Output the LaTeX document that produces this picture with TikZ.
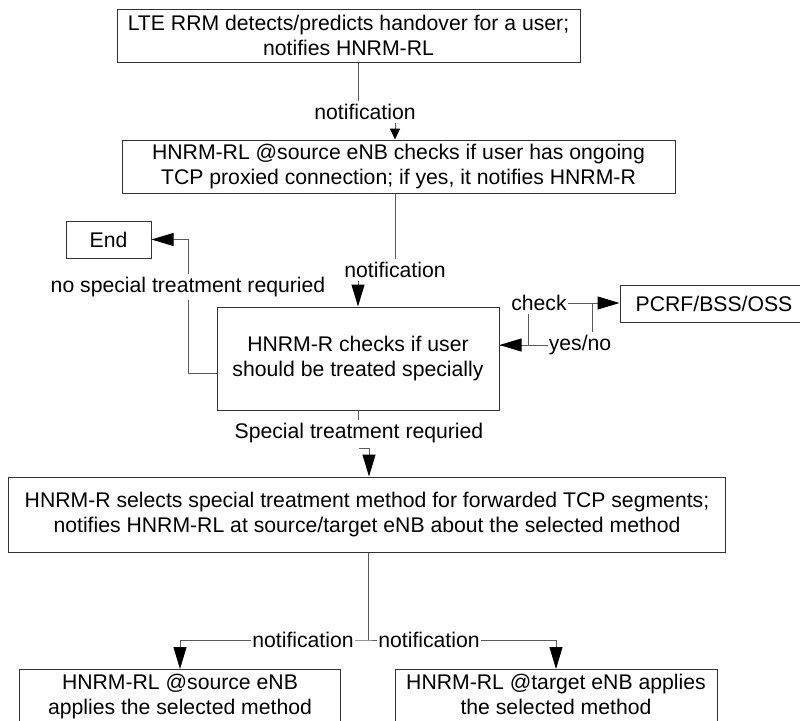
\documentclass[tikz,border=0pt]{standalone}
\usepackage{fontspec}
\setmainfont{Liberation Sans}
\usetikzlibrary{arrows.meta,calc}
\definecolor{boxline}{HTML}{333333}
\definecolor{wire}{HTML}{5A5A5A}
\begin{document}
\begin{tikzpicture}[x=1pt,y=-1pt,
  every node/.style={font=\fontsize{21.2}{25}\selectfont},
  box/.style={draw=boxline, line width=1pt, align=center, inner sep=0pt},
  lbl/.style={inner xsep=1pt, inner ysep=3pt},
  wire/.style={draw=wire, line width=1pt},
  tip/.style={wire, -{Triangle[length=22pt,width=13pt,color=black]}},
  smalltip/.style={wire, -{Triangle[length=11pt,width=10pt,color=black]}},
]
\useasboundingbox (0,0) rectangle (800,720);

% process boxes
\node[box, minimum width=463pt, minimum height=53pt] (b1) at (348.5,35.5)
  {LTE RRM detects/predicts handover for a user;\\notifies HNRM-RL};
\node[box, minimum width=553pt, minimum height=53pt] (b2) at (398.5,166.5)
  {HNRM-RL @source eNB checks if user has ongoing\\TCP proxied connection; if yes, it notifies HNRM-R};
\node[box, minimum width=282pt, minimum height=103pt] (b3) at (358,358.5)
  {HNRM-R checks if user\\should be treated specially};
\node[box, minimum width=85pt, minimum height=37pt] (end) at (108.5,239.5) {End};
\node[box, minimum width=188pt, minimum height=37pt] (pcrf) at (714,303.5) {PCRF/BSS/OSS};
\node[box, minimum width=717pt, minimum height=75pt] (b4) at (367,514.5)
  {HNRM-R selects special treatment method for forwarded TCP segments;\\notifies HNRM-RL at source/target eNB about the selected method};
\node[box, minimum width=321pt, anchor=north, inner ysep=5pt, text depth=30pt] (src) at (180,669)
  {HNRM-RL @source eNB\\applies the selected method};
\node[box, minimum width=322pt, anchor=north, inner ysep=5pt, text depth=30pt] (tgt) at (556,669)
  {HNRM-RL @target eNB applies\\the selected method};

% connector labels
\node[lbl] (n1) at (365,112) {notification};
\node[lbl] (n2) at (395,270) {notification};
\node[lbl] (nst) at (188,287) {no special treatment requried};
\node[lbl] (chk) at (539,303) {check};
\node[lbl] (yn) at (580,345) {yes/no};
\node[lbl] (sp) at (359,433) {Special treatment requried};
\node[lbl] (nl) at (303,640) {notification};
\node[lbl] (nr) at (429,640) {notification};

% routing points
\coordinate (x1) at (358,0);
\coordinate (x2) at (395,0);
\coordinate (x3) at (358,0);
\coordinate (yl) at (0,373);
\coordinate (ycross) at (0,345);
\coordinate (xchk) at (528,0);
\coordinate (xyn) at (592,0);
\coordinate (hook) at (359,448);
\coordinate (xsp) at (369,0);
\coordinate (join) at (368,640);

% b1 -> b2
\draw[wire] (b1.south -| x1) -- (n1.north -| x1);
\draw[smalltip] (n1.south -| x2) -- (b2.north -| x2);

% b2 -> b3
\draw[wire] (b2.south -| x2) -- (n2.north -| x2);
\draw[tip] (n2.south -| x3) -- (b3.north -| x3);

% b3 -> End
\draw[wire] (b3.west |- yl) -| (nst.south);
\draw[tip] (nst.north) |- (end.east);

% b3 <-> PCRF/BSS/OSS
\draw[wire] (b3.east |- ycross) -| (chk.south -| xchk);
\draw[tip] (chk.east) -- (pcrf.west |- chk.east);
\draw[wire] (pcrf.west -| xyn) -- (yn.north -| xyn);
\draw[tip] (yn.west) -- (b3.east |- yn.west);

% b3 -> b4
\draw[wire] (b3.south) -- (sp.north -| b3.south);
\draw[tip] (hook) -| (b4.north -| xsp);

% b4 -> source / target
\draw[wire] (b4.south -| join) -- (join);
\draw[wire] (nl.east) -- (join) -- (nr.west);
\draw[tip] (nl.west) -| (src.north);
\draw[tip] (nr.east) -| (tgt.north);
\end{tikzpicture}
\end{document}
